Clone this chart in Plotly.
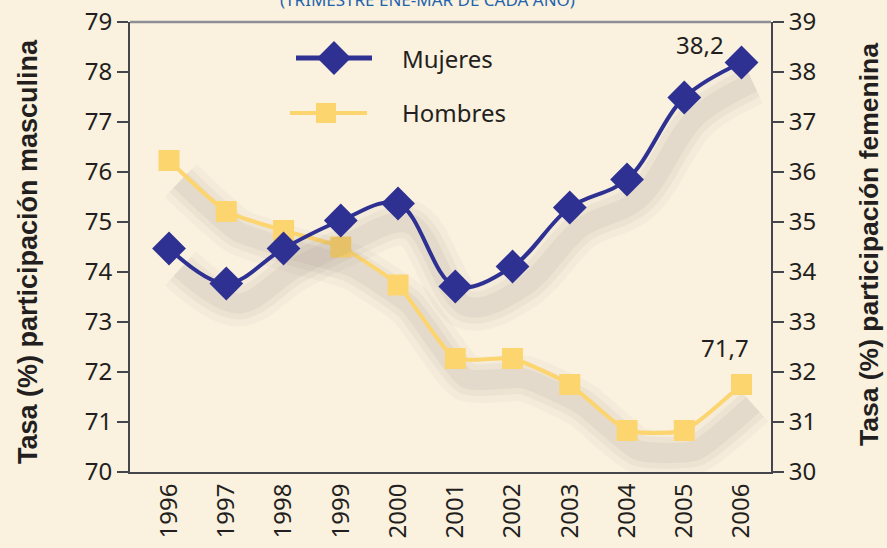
import plotly.graph_objects as go

# ---- data ----
years = [1996, 1997, 1998, 1999, 2000, 2001, 2002, 2003, 2004, 2005, 2006]
mujeres = [34.47, 33.77, 34.47, 35.03, 35.37, 33.71, 34.11, 35.29, 35.85, 37.49, 38.19]
hombres = [76.23, 75.21, 74.83, 74.50, 73.74, 72.27, 72.27, 71.75, 70.83, 70.83, 71.75]
left_ticks = list(range(70, 80))
right_ticks = list(range(30, 40))
year_labels = [str(y) for y in years]
label_mujeres = "38,2"
label_hombres = "71,7"
series_names = ["Mujeres", "Hombres"]

# ---- style ----
BG = "#faf1df"
DARK = "#231f20"
AX = "#45454d"
BLUE = "#2e3192"
YELLOW = "#fdd56f"
FONT = "Noto Sans"
TICKFONT = dict(family=FONT, size=24, color=DARK)

x_range = [1995.318, 2006.515]
bounds = [x_range[0]] + [y - 0.5 for y in years] + [years[-1] + 0.5]

fig = go.Figure()

# soft drop shadows derived from the data
for w, a in [(46, 0.03), (32, 0.04), (20, 0.05)]:
    fig.add_trace(go.Scatter(x=[v + 0.2 for v in years], y=[v - 0.4 for v in hombres],
                             mode="lines", line=dict(color=f"rgba(70,60,50,{a})", width=w, shape="spline", smoothing=0.5),
                             yaxis="y", hoverinfo="skip", showlegend=False))
    fig.add_trace(go.Scatter(x=[v + 0.2 for v in years], y=[v - 0.4 for v in mujeres],
                             mode="lines", line=dict(color=f"rgba(70,60,50,{a})", width=w, shape="spline", smoothing=1.0),
                             yaxis="y2", hoverinfo="skip", showlegend=False))

fig.add_trace(go.Scatter(x=years, y=hombres, name=series_names[1], mode="lines+markers",
                         line=dict(color=YELLOW, width=4, shape="spline", smoothing=0.5),
                         marker=dict(symbol="square", size=21, color=YELLOW),
                         yaxis="y", showlegend=False))
fig.add_trace(go.Scatter(x=years, y=mujeres, name=series_names[0], mode="lines+markers",
                         line=dict(color=BLUE, width=4, shape="spline", smoothing=1.0),
                         marker=dict(symbol="diamond", size=26, color=BLUE),
                         yaxis="y2", showlegend=False))

# custom legend (pixel coordinates on hidden axes)
fig.add_trace(go.Scatter(x=[296, 372], y=[58, 58], mode="lines", line=dict(color=BLUE, width=5),
                         xaxis="x4", yaxis="y5", hoverinfo="skip", showlegend=False))
fig.add_trace(go.Scatter(x=[334], y=[58], mode="markers", marker=dict(symbol="diamond", size=26, color=BLUE),
                         xaxis="x4", yaxis="y5", hoverinfo="skip", showlegend=False))
fig.add_trace(go.Scatter(x=[290, 367], y=[113, 113], mode="lines", line=dict(color=YELLOW, width=4),
                         xaxis="x4", yaxis="y5", hoverinfo="skip", showlegend=False))
fig.add_trace(go.Scatter(x=[326], y=[113], mode="markers", marker=dict(symbol="square", size=20, color=YELLOW),
                         xaxis="x4", yaxis="y5", hoverinfo="skip", showlegend=False))

annotations = [
    dict(x=400, y=58, xref="x4", yref="y5", text=series_names[0], showarrow=False, xanchor="left", yanchor="middle",
         font=dict(family=FONT, size=24, color=DARK)),
    dict(x=400, y=112, xref="x4", yref="y5", text=series_names[1], showarrow=False, xanchor="left", yanchor="middle",
         font=dict(family=FONT, size=24, color=DARK)),
    dict(x=years[-1], y=mujeres[-1], xref="x", yref="y2", text=label_mujeres, showarrow=False,
         xshift=-42, yshift=18, font=dict(family=FONT, size=24, color=DARK)),
    dict(x=years[-1], y=hombres[-1], xref="x", yref="y", text=label_hombres, showarrow=False,
         xshift=-17, yshift=37, font=dict(family=FONT, size=24, color=DARK)),
    dict(x=(28 - 130) / 641, y=(472 - 252) / 450, xref="paper", yref="paper",
         text="<b>Tasa (%) participación masculina</b>",
         textangle=-90, showarrow=False, xanchor="center", yanchor="middle",
         font=dict(family="Liberation Sans", size=27, color=DARK)),
    dict(x=(869 - 130) / 641, y=(472 - 245) / 450, xref="paper", yref="paper",
         text="<b>Tasa (%) participación femenina</b>",
         textangle=-90, showarrow=False, xanchor="center", yanchor="middle",
         font=dict(family="Liberation Sans", size=26.5, color=DARK)),
    dict(x=(427 - 130) / 641, y=(472 + 1) / 450, xref="paper", yref="paper", text="(TRIMESTRE ENE-MAR DE CADA AÑO)",
         showarrow=False, xanchor="center", yanchor="middle", font=dict(family=FONT, size=17, color="#1f64ad")),
]

common_x = dict(range=x_range, showgrid=False, zeroline=False, automargin=False)
common_tick = dict(tickcolor=AX, tickwidth=1.5, ticklen=10, showticklabels=False, showgrid=False, zeroline=False,
                   automargin=False)

fig.update_layout(
    width=887, height=548,
    margin=dict(l=130, r=116, t=22, b=76, autoexpand=False),
    paper_bgcolor=BG, plot_bgcolor=BG,
    showlegend=False,
    xaxis=dict(**common_x, tickvals=years, ticktext=year_labels, ticks="", tickangle=-90,
               tickfont=TICKFONT, showline=True, linecolor=AX, linewidth=2, anchor="y"),
    xaxis2=dict(**common_x, overlaying="x", anchor="y", side="bottom", tickvals=bounds, ticks="outside",
                tickcolor=AX, tickwidth=1.5, ticklen=10, showticklabels=False),
    xaxis3=dict(**common_x, overlaying="x", anchor="y", side="bottom", tickvals=bounds, ticks="inside",
                tickcolor=AX, tickwidth=1.5, ticklen=10, showticklabels=False),
    yaxis=dict(range=[70, 79], tickvals=left_ticks, ticks="outside", ticklen=11, tickcolor=AX, tickwidth=1.5,
               tickfont=TICKFONT, showline=True, linecolor=AX, linewidth=2, showgrid=False, zeroline=False,
               side="left", anchor="x", automargin=False),
    yaxis2=dict(range=[30, 39], tickvals=right_ticks, ticks="outside", ticklen=11, tickcolor=AX, tickwidth=1.5,
                tickfont=TICKFONT, showline=True, linecolor=AX, linewidth=2, showgrid=False, zeroline=False,
                side="right", overlaying="y", anchor="x", automargin=False),
    yaxis3=dict(range=[70, 79], tickvals=left_ticks, ticks="inside", side="left", overlaying="y", anchor="x", **common_tick),
    yaxis4=dict(range=[30, 39], tickvals=right_ticks, ticks="inside", side="right", overlaying="y", anchor="x", **common_tick),
    xaxis4=dict(range=[130, 771], visible=False, overlaying="x", anchor="y5", automargin=False),
    yaxis5=dict(range=[472, 22], visible=False, overlaying="y", anchor="x4", automargin=False),
    annotations=annotations,
    shapes=[dict(type="line", xref="paper", yref="paper", x0=0, x1=1, y0=1, y1=1,
                 line=dict(color="#8c9096", width=2.5))],
)

fig.write_html("out.html", config={"displayModeBar": False},
               post_script="document.body.style.margin='0';document.body.style.overflow='hidden';")
